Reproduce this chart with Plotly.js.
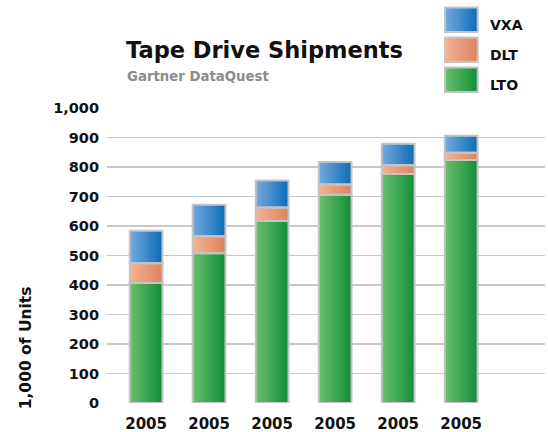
<!DOCTYPE html>
<html>
<head>
<meta charset="utf-8">
<script src="https://cdn.plot.ly/plotly-3.0.1.min.js"></script>
<style>html,body{margin:0;padding:0;background:#fff;}#chart{width:548px;height:432px;}</style>
</head>
<body>
<div id="chart"></div>
<script>
// ---- data ----
var categories = ["2005", "2005", "2005", "2005", "2005", "2005"];
var seriesNames = ["LTO", "DLT", "VXA"];
var ltoValues = [407, 508, 617, 706, 776, 824];
var dltValues = [67, 57, 46, 35, 30, 24];
var vxaValues = [110, 107, 91, 76, 73, 58];
var yTickValues = [0, 100, 200, 300, 400, 500, 600, 700, 800, 900, 1000];
var yTickLabels = ["0", "100", "200", "300", "400", "500", "600", "700", "800", "900", "1,000"];

// ---- styling ----
var FONT = "DejaVu Sans, Liberation Sans, sans-serif";
var gradients = {
  LTO: ["#66bd6a", "#17903c"],
  DLT: ["#f4b190", "#dd8560"],
  VXA: ["#70a6dc", "#1170ba"]
};
var xPos = categories.map(function (c, i) { return i; });
var barWidth = 0.52;
var strips = 10;

function hexToRgb(h) {
  return [parseInt(h.substr(1, 2), 16), parseInt(h.substr(3, 2), 16), parseInt(h.substr(5, 2), 16)];
}
function mix(a, b, t) {
  var A = hexToRgb(a), B = hexToRgb(b);
  return "rgb(" + [0, 1, 2].map(function (k) { return Math.round(A[k] + (B[k] - A[k]) * t); }).join(",") + ")";
}

var seriesVals = { LTO: ltoValues, DLT: dltValues, VXA: vxaValues };
var bases = {
  LTO: ltoValues.map(function () { return 0; }),
  DLT: ltoValues.slice(),
  VXA: ltoValues.map(function (v, i) { return v + dltValues[i]; })
};

var traces = [];
seriesNames.forEach(function (name) {
  var g = gradients[name];
  var sw = barWidth / strips;
  for (var s = 0; s < strips; s++) {
    // each strip extends to the right edge of the bar so seams are covered by the next strip
    traces.push({
      type: "bar",
      x: xPos,
      y: seriesVals[name],
      base: bases[name],
      width: barWidth - s * sw,
      offset: -barWidth / 2 + s * sw,
      marker: { color: mix(g[0], g[1], s / (strips - 1)), line: { width: 0 } },
      showlegend: false,
      hoverinfo: "skip"
    });
  }
});
// outlines
seriesNames.forEach(function (name) {
  traces.push({
    type: "bar",
    x: xPos,
    y: seriesVals[name],
    base: bases[name],
    width: barWidth,
    name: name,
    marker: { color: "rgba(0,0,0,0)", line: { color: "#c4c4c4", width: 2 } },
    showlegend: false,
    hoverinfo: "skip"
  });
});

// ---- custom legend (paper coords) ----
var legendBoxes = [
  { name: "VXA", y0: 7.3, y1: 31.7 },
  { name: "DLT", y0: 37.3, y1: 61.7 },
  { name: "LTO", y0: 67.3, y1: 91.7 }
];
var plotLeft = 107, plotWidth = 438, plotBottom = 402.7, plotHeight = 295;
function px2x(p) { return (p - plotLeft) / plotWidth; }
function px2y(p) { return (plotBottom - p) / plotHeight; }

var shapes = [];
var annotations = [];
legendBoxes.forEach(function (b) {
  var g = gradients[b.name];
  var x0 = 445, x1 = 477.7, n = 10;
  for (var s = 0; s < n; s++) {
    shapes.push({
      type: "rect", xref: "paper", yref: "paper",
      x0: px2x(x0 + (x1 - x0) * s / n), x1: px2x(x1),
      y0: px2y(b.y1), y1: px2y(b.y0),
      fillcolor: mix(g[0], g[1], s / (n - 1)), line: { width: 0 }
    });
  }
  shapes.push({
    type: "rect", xref: "paper", yref: "paper",
    x0: px2x(x0), x1: px2x(x1), y0: px2y(b.y1), y1: px2y(b.y0),
    fillcolor: "rgba(0,0,0,0)", line: { color: "#c4c4c4", width: 2 }
  });
  annotations.push({
    xref: "paper", yref: "paper", x: px2x(488), y: px2y((b.y0 + b.y1) / 2 + 5.5),
    xanchor: "left", yanchor: "middle", showarrow: false,
    text: b.name, font: { family: FONT, size: 14, color: "#111", weight: "bold" }
  });
});

annotations.push({
  xref: "paper", yref: "paper", x: px2x(124), y: px2y(50),
  xanchor: "left", yanchor: "middle", showarrow: false,
  text: "Tape Drive Shipments", font: { family: FONT, size: 22.5, color: "#111", weight: "bold" }
});
annotations.push({
  xref: "paper", yref: "paper", x: px2x(125), y: px2y(76),
  xanchor: "left", yanchor: "middle", showarrow: false,
  text: "Gartner DataQuest", font: { family: FONT, size: 13.3, color: "#8c8c8c", weight: "bold" }
});
annotations.push({
  xref: "paper", yref: "paper", x: px2x(26), y: px2y(348),
  xanchor: "center", yanchor: "middle", showarrow: false, textangle: -90,
  text: "1,000 of Units", font: { family: FONT, size: 15.5, color: "#111", weight: "bold" }
});

var layout = {
  width: 548, height: 432,
  margin: { l: 107, r: 3, t: 108, b: 29.3, pad: 0 },
  paper_bgcolor: "#fff", plot_bgcolor: "#fff",
  barmode: "overlay",
  showlegend: false,
  xaxis: {
    range: [-0.62, 6.33],
    tickvals: xPos, ticktext: categories,
    showgrid: false, zeroline: false, showline: false, ticks: "",
    ticklabelstandoff: 10,
    tickfont: { family: FONT, size: 15, color: "#111", weight: "bold" },
    fixedrange: true
  },
  yaxis: {
    range: [0, 1000],
    tickvals: yTickValues, ticktext: yTickLabels,
    showgrid: true, gridcolor: "#c8c8c8", gridwidth: 1.5,
    zeroline: false, showline: false, ticks: "",
    ticklabelstandoff: 7,
    tickfont: { family: FONT, size: 14.5, color: "#111", weight: "bold" },
    fixedrange: true
  },
  shapes: shapes,
  annotations: annotations
};

Plotly.newPlot("chart", traces, layout, { displayModeBar: false, staticPlot: true });
</script>
</body>
</html>
